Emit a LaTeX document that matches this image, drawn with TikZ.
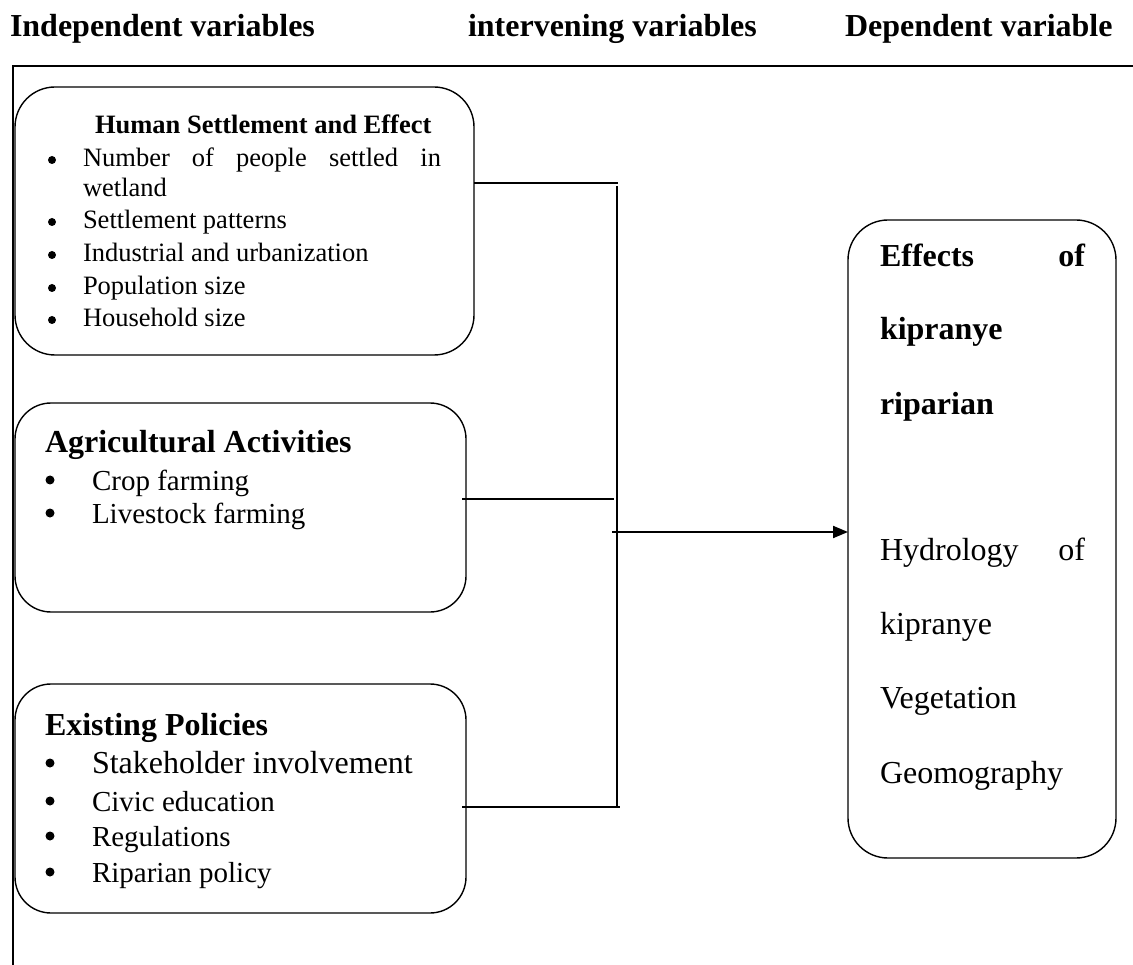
\documentclass[tikz,border=0pt]{standalone}
\usepackage{fontspec}
\setmainfont{Liberation Serif}
\usetikzlibrary{arrows.meta}
\newcommand{\hdfont}{\fontsize{32}{36}\selectfont\bfseries}
\newcommand{\ttlfont}{\fontsize{32}{36}\selectfont\bfseries}
\newcommand{\smfont}{\fontsize{26.5}{30}\selectfont}
\newcommand{\mdfont}{\fontsize{29}{33}\selectfont}
\newcommand{\lgfont}{\fontsize{32}{36}\selectfont}
\begin{document}
\begin{tikzpicture}[x=1pt,y=-1pt,
  box/.style={draw, line width=1.4pt, rounded corners=40pt, inner sep=0pt, outer sep=0pt, anchor=north west},
  txt/.style={anchor=base west, inner sep=0pt, outer sep=0pt},
  bul/.style={circle, fill=black, inner sep=0pt, outer sep=0pt, minimum size=8pt},
  bulb/.style={bul, minimum size=9pt},
  conn/.style={line width=1.4pt},
  thickline/.style={line width=2pt},
  frame/.style={line width=2.2pt}
]
\useasboundingbox (0,0) rectangle (1133,965);

% headers
\node[txt, font=\hdfont] (h1) at (10,37) {Independent variables};
\node[txt, font=\hdfont] (h2) at (468,37) {intervening variables};
\node[txt, font=\hdfont] (h3) at (845,37) {Dependent variable};

% frame
\coordinate (fr1) at (1133,66);
\coordinate (fr2) at (13,965);
\draw[frame] (fr1) -| (fr2);

% boxes
\node[box, minimum width=459pt, minimum height=268pt] (b1) at (15,87) {};
\node[box, minimum width=451pt, minimum height=209pt, rounded corners=36pt] (b2) at (15,403) {};
\node[box, minimum width=451pt, minimum height=229pt, rounded corners=36pt] (b3) at (15,684) {};
\node[box, minimum width=268pt, minimum height=638pt] (b4) at (848,220) {};

% box 1 text
\node[txt, font=\smfont\bfseries] (t1) at (95,134) {Human Settlement and Effect};
\node[bul] (d11) at (52,160) {};
\node[txt, font=\smfont] (t11) at (83,167) {\makebox[358pt][s]{Number of people settled in}};
\node[txt, font=\smfont] (t11b) at (83,197) {wetland};
\node[bul] (d12) at (52,222) {};
\node[txt, font=\smfont] (t12) at (83,229) {Settlement patterns};
\node[bul] (d13) at (52,255) {};
\node[txt, font=\smfont] (t13) at (83,262) {Industrial and urbanization};
\node[bul] (d14) at (52,288) {};
\node[txt, font=\smfont] (t14) at (83,295) {Population size};
\node[bul] (d15) at (52,320) {};
\node[txt, font=\smfont] (t15) at (83,327) {Household size};

% box 2 text
\node[txt, font=\ttlfont] (t2) at (45,453) {Agricultural Activities};
\node[bulb] (d21) at (50,480) {};
\node[txt, font=\mdfont] (t21) at (92,490) {Crop farming};
\node[bulb] (d22) at (50,513) {};
\node[txt, font=\mdfont] (t22) at (92,523) {Livestock farming};

% box 3 text
\node[txt, font=\ttlfont] (t3) at (45,735) {Existing Policies};
\node[bulb] (d31) at (50,763) {};
\node[txt, font=\lgfont] (t31) at (92,773) {Stakeholder involvement};
\node[bulb] (d32) at (50,801) {};
\node[txt, font=\mdfont] (t32) at (92,811) {Civic education};
\node[bulb] (d33) at (50,836) {};
\node[txt, font=\mdfont] (t33) at (92,846) {Regulations};
\node[bulb] (d34) at (50,872) {};
\node[txt, font=\mdfont] (t34) at (92,882) {Riparian policy};

% box 4 text
\node[txt, font=\lgfont\bfseries] (t41) at (880,267) {\makebox[205pt][s]{Effects of}};
\node[txt, font=\lgfont\bfseries] (t42) at (880,340) {kipranye};
\node[txt, font=\lgfont\bfseries] (t43) at (880,415) {riparian};
\node[txt, font=\lgfont] (t44) at (880,560) {\makebox[205pt][s]{Hydrology of}};
\node[txt, font=\lgfont] (t45) at (880,634) {kipranye};
\node[txt, font=\lgfont] (t46) at (880,708) {Vegetation};
\node[txt, font=\lgfont] (t47) at (880,783) {Geomography};

% connectors
\coordinate (j1) at (618,183);
\coordinate (j2) at (614,499);
\coordinate (j3) at (620,807);
\coordinate (vt) at (617,186);
\coordinate (vb) at (617,807);
\coordinate (ar) at (612,532);

\draw[conn] (j1 -| b1.east) -- (j1);
\draw[conn] ([xshift=-4pt]j2 -| b2.east) -- (j2);
\draw[conn] ([xshift=-4pt]j3 -| b3.east) -- (j3);
\draw[thickline] (vt) -- (vb);
\draw[thickline, -{Triangle[length=15pt,width=12pt]}] (ar) -- (ar -| b4.west);
\end{tikzpicture}
\end{document}
